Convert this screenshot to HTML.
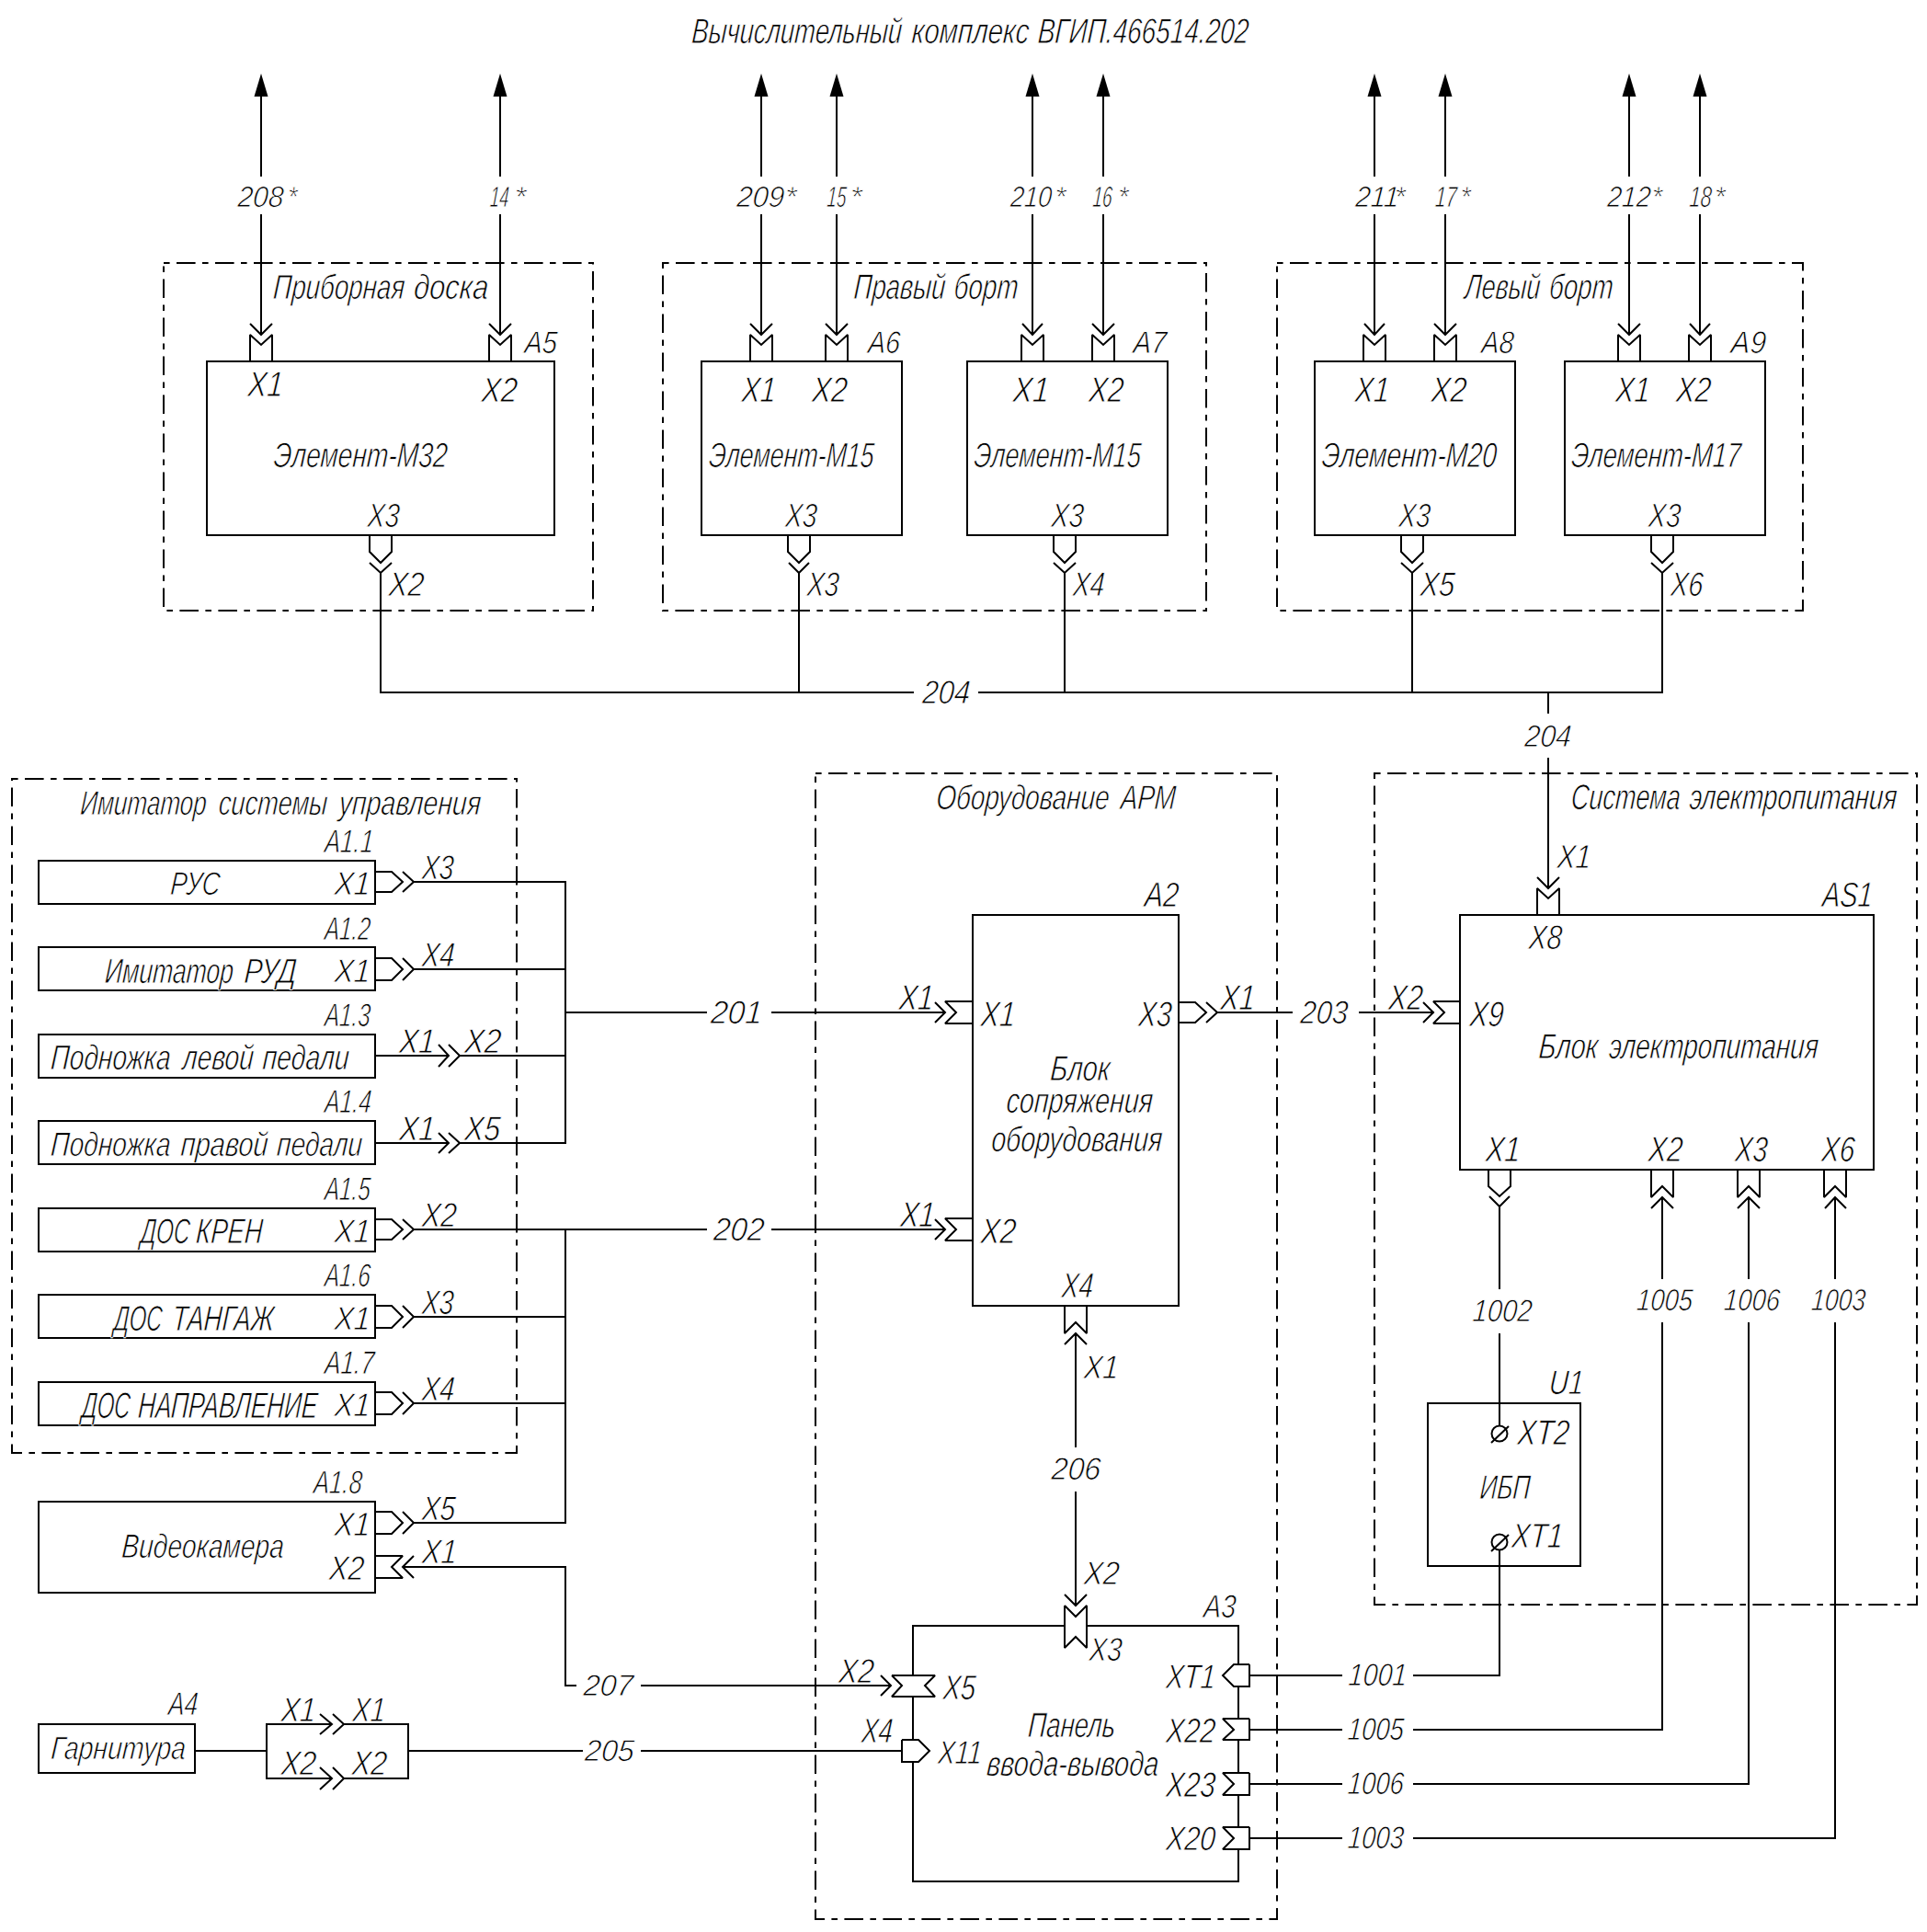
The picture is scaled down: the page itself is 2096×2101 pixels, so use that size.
<!DOCTYPE html>
<html><head><meta charset="utf-8"><title>schema</title>
<style>
html,body{margin:0;padding:0;background:#fff;}
body{width:2096px;height:2101px;overflow:hidden;}
svg{display:block;}
.d{stroke-dasharray:6.6 7.4 20.6 7.4;}
.tx text{font-family:"Liberation Sans",sans-serif;font-style:italic;fill:#000;stroke:#fff;stroke-width:0.85px;paint-order:fill;}
</style></head><body>
<svg width="2096" height="2101" viewBox="0 0 2096 2101">
<g fill="none" stroke="#000" stroke-width="2" stroke-linejoin="miter" stroke-miterlimit="2" stroke-linecap="butt">
<rect x="225" y="393" width="378" height="189"/>
<path d="M272,393 L272,364 L284,375 L296,364 L296,393"/>
<path d="M272,352 L284,364 L296,352"/>
<path d="M284,364 L284,233"/>
<path d="M284,192 L284,105"/>
<path d="M532,393 L532,364 L544,375 L556,364 L556,393"/>
<path d="M532,352 L544,364 L556,352"/>
<path d="M544,364 L544,233"/>
<path d="M544,192 L544,105"/>
<path d="M402,582 L402,600 L414,612 L426,600 L426,582"/>
<path d="M402,612 L414,623 L426,612"/>
<rect x="763" y="393" width="218" height="189"/>
<path d="M816,393 L816,364 L828,375 L840,364 L840,393"/>
<path d="M816,352 L828,364 L840,352"/>
<path d="M828,364 L828,233"/>
<path d="M828,192 L828,105"/>
<path d="M898,393 L898,364 L910,375 L922,364 L922,393"/>
<path d="M898,352 L910,364 L922,352"/>
<path d="M910,364 L910,233"/>
<path d="M910,192 L910,105"/>
<path d="M857,582 L857,600 L869,612 L881,600 L881,582"/>
<path d="M858,612 L869,623 L880,612"/>
<path d="M869,623 L869,753"/>
<rect x="1052" y="393" width="218" height="189"/>
<path d="M1111,393 L1111,364 L1123,375 L1135,364 L1135,393"/>
<path d="M1112,352 L1123,364 L1134,352"/>
<path d="M1123,364 L1123,233"/>
<path d="M1123,192 L1123,105"/>
<path d="M1188,393 L1188,364 L1200,375 L1212,364 L1212,393"/>
<path d="M1188,352 L1200,364 L1212,352"/>
<path d="M1200,364 L1200,233"/>
<path d="M1200,192 L1200,105"/>
<path d="M1146,582 L1146,600 L1158,612 L1170,600 L1170,582"/>
<path d="M1146,612 L1158,623 L1170,612"/>
<path d="M1158,623 L1158,753"/>
<rect x="1430" y="393" width="218" height="189"/>
<path d="M1483,393 L1483,364 L1495,375 L1507,364 L1507,393"/>
<path d="M1484,352 L1495,364 L1506,352"/>
<path d="M1495,364 L1495,233"/>
<path d="M1495,192 L1495,105"/>
<path d="M1560,393 L1560,364 L1572,375 L1584,364 L1584,393"/>
<path d="M1560,352 L1572,364 L1584,352"/>
<path d="M1572,364 L1572,233"/>
<path d="M1572,192 L1572,105"/>
<path d="M1524,582 L1524,600 L1536,612 L1548,600 L1548,582"/>
<path d="M1524,612 L1536,623 L1548,612"/>
<path d="M1536,623 L1536,753"/>
<rect x="1702" y="393" width="218" height="189"/>
<path d="M1760,393 L1760,364 L1772,375 L1784,364 L1784,393"/>
<path d="M1760,352 L1772,364 L1784,352"/>
<path d="M1772,364 L1772,233"/>
<path d="M1772,192 L1772,105"/>
<path d="M1837,393 L1837,364 L1849,375 L1861,364 L1861,393"/>
<path d="M1838,352 L1849,364 L1860,352"/>
<path d="M1849,364 L1849,233"/>
<path d="M1849,192 L1849,105"/>
<path d="M1796,582 L1796,600 L1808,612 L1820,600 L1820,582"/>
<path d="M1796,612 L1808,623 L1820,612"/>
<path class="d" d="M178,286 H645 V664 H178 Z"/>
<path class="d" d="M721,286 H1312 V664 H721 Z"/>
<path class="d" d="M1389,286 H1961 V664 H1389 Z"/>
<path d="M414,623 L414,753 L994,753"/>
<path d="M1064,753 L1808,753 L1808,623"/>
<path d="M1684,753 L1684,776"/>
<path class="d" d="M13,847 H562 V1580 H13 Z"/>
<rect x="42" y="936" width="366" height="47"/>
<path d="M408,948 L426,948 L438,959 L426,970 L408,970"/>
<path d="M438,948 L450,959 L438,970"/>
<path d="M450,959 L615,959 L615,1101"/>
<rect x="42" y="1030" width="366" height="47"/>
<path d="M408,1042 L426,1042 L438,1054 L426,1066 L408,1066"/>
<path d="M438,1042 L450,1054 L438,1066"/>
<path d="M450,1054 L615,1054"/>
<rect x="42" y="1125" width="366" height="47"/>
<path d="M408,1148 L488,1148"/>
<path d="M500,1148 L615,1148"/>
<path d="M477,1136 L488,1148 L477,1160"/>
<path d="M488,1136 L500,1148 L488,1160"/>
<rect x="42" y="1219" width="366" height="47"/>
<path d="M408,1243 L488,1243"/>
<path d="M500,1243 L615,1243 L615,1101"/>
<path d="M477,1232 L488,1243 L477,1254"/>
<path d="M488,1232 L500,1243 L488,1254"/>
<rect x="42" y="1314" width="366" height="47"/>
<path d="M408,1326 L426,1326 L438,1337 L426,1348 L408,1348"/>
<path d="M438,1326 L450,1337 L438,1348"/>
<path d="M450,1337 L769,1337"/>
<rect x="42" y="1408" width="366" height="47"/>
<path d="M408,1420 L426,1420 L438,1432 L426,1444 L408,1444"/>
<path d="M438,1420 L450,1432 L438,1444"/>
<path d="M450,1432 L615,1432"/>
<rect x="42" y="1503" width="366" height="47"/>
<path d="M408,1514 L426,1514 L438,1526 L426,1538 L408,1538"/>
<path d="M438,1514 L450,1526 L438,1538"/>
<path d="M450,1526 L615,1526"/>
<rect x="42" y="1633" width="366" height="99"/>
<path d="M408,1644 L426,1644 L438,1656 L426,1668 L408,1668"/>
<path d="M438,1644 L450,1656 L438,1668"/>
<path d="M450,1656 L615,1656 L615,1337"/>
<path d="M408,1692 L438,1692 L426,1704 L438,1716 L408,1716"/>
<path d="M450,1692 L438,1704 L450,1716"/>
<path d="M438,1704 L615,1704 L615,1833 L627,1833"/>
<path d="M615,1101 L769,1101"/>
<rect x="42" y="1875" width="170" height="53"/>
<path d="M212,1904 L290,1904"/>
<path d="M374,1875 L444,1875 L444,1934 L374,1934"/>
<path d="M361,1875 L290,1875 L290,1934 L361,1934"/>
<path d="M348,1864 L361,1875 L348,1886"/>
<path d="M362,1864 L374,1875 L362,1886"/>
<path d="M348,1922 L361,1934 L348,1946"/>
<path d="M362,1922 L374,1934 L362,1946"/>
<path d="M444,1904 L634,1904"/>
<path class="d" d="M887,841 H1389 V2087 H887 Z"/>
<rect x="1058" y="995" width="224" height="425"/>
<path d="M839,1101 L1028,1101"/>
<path d="M1058,1089 L1028,1089 L1040,1101 L1028,1113 L1058,1113"/>
<path d="M1017,1090 L1028,1101 L1017,1112"/>
<path d="M1282,1090 L1300,1090 L1312,1101 L1300,1112 L1282,1112"/>
<path d="M1312,1090 L1324,1101 L1312,1112"/>
<path d="M1324,1101 L1406,1101"/>
<path d="M1478,1101 L1560,1101"/>
<path d="M839,1337 L1028,1337"/>
<path d="M1058,1325 L1028,1325 L1040,1337 L1028,1349 L1058,1349"/>
<path d="M1017,1326 L1028,1337 L1017,1348"/>
<path d="M1158,1420 L1158,1450 L1170,1438 L1182,1450 L1182,1420"/>
<path d="M1158,1462 L1170,1450 L1182,1462"/>
<path d="M1170,1450 L1170,1574"/>
<path d="M1170,1622 L1170,1746"/>
<path d="M1158,1734 L1170,1746 L1182,1734"/>
<path d="M1158,1746 L1170,1758 L1182,1746 L1182,1792 L1170,1780 L1158,1792 L1158,1746"/>
<path d="M1158,1768 L993,1768 L993,1822"/>
<path d="M1182,1768 L1347,1768 L1347,1810"/>
<path d="M993,1845 L993,1892"/>
<path d="M993,1916 L993,2046 L1347,2046 L1347,2011"/>
<path d="M1347,1833 L1347,1869"/>
<path d="M1347,1892 L1347,1928"/>
<path d="M1347,1952 L1347,1987"/>
<path d="M970,1822 L1017,1822 L1006,1833 L1017,1845 L970,1845 L981,1833 L970,1822"/>
<path d="M958,1822 L969,1833 L958,1844"/>
<path d="M697,1833 L969,1833"/>
<path d="M981,1892 L999,1892 L1011,1904 L999,1916 L981,1916 L981,1892"/>
<path d="M697,1904 L981,1904"/>
<path d="M1359,1810 L1342,1810 L1330,1822 L1342,1834 L1359,1834 L1359,1810"/>
<path d="M1359,1869 L1330,1869 L1342,1881 L1330,1892 L1359,1892 L1359,1869"/>
<path d="M1359,1928 L1330,1928 L1342,1940 L1330,1952 L1359,1952 L1359,1928"/>
<path d="M1359,1987 L1330,1987 L1342,1999 L1330,2011 L1359,2011 L1359,1987"/>
<path class="d" d="M1495,841 H2085 V1745 H1495 Z"/>
<rect x="1588" y="995" width="450" height="277"/>
<path d="M1672,995 L1672,966 L1684,977 L1696,966 L1696,995"/>
<path d="M1672,954 L1684,966 L1696,954"/>
<path d="M1684,824 L1684,966"/>
<path d="M1588,1089 L1559,1089 L1571,1101 L1559,1113 L1588,1113"/>
<path d="M1548,1090 L1559,1101 L1548,1112"/>
<path d="M1619,1272 L1619,1290 L1631,1301 L1643,1290 L1643,1272"/>
<path d="M1620,1301 L1631,1312 L1642,1301"/>
<path d="M1631,1312 L1631,1402"/>
<path d="M1631,1450 L1631,1550"/>
<path d="M1796,1272 L1796,1302 L1808,1290 L1820,1302 L1820,1272"/>
<path d="M1796,1314 L1808,1302 L1820,1314"/>
<path d="M1808,1302 L1808,1391"/>
<path d="M1808,1438 L1808,1881 L1537,1881"/>
<path d="M1890,1272 L1890,1302 L1902,1290 L1914,1302 L1914,1272"/>
<path d="M1890,1314 L1902,1302 L1914,1314"/>
<path d="M1902,1302 L1902,1391"/>
<path d="M1902,1438 L1902,1940 L1537,1940"/>
<path d="M1984,1272 L1984,1302 L1996,1290 L2008,1302 L2008,1272"/>
<path d="M1985,1314 L1996,1302 L2008,1314"/>
<path d="M1996,1302 L1996,1391"/>
<path d="M1996,1438 L1996,1999 L1537,1999"/>
<rect x="1553" y="1526" width="166" height="177"/>
<circle cx="1631" cy="1559" r="8.5"/>
<path d="M1622,1569 L1641,1551"/>
<circle cx="1631" cy="1677" r="8.5"/>
<path d="M1622,1687 L1641,1669"/>
<path d="M1631,1686 L1631,1822 L1537,1822"/>
<path d="M1460,1822 L1359,1822"/>
<path d="M1460,1881 L1359,1881"/>
<path d="M1460,1940 L1359,1940"/>
<path d="M1460,1999 L1359,1999"/>
</g>
<g fill="#000" stroke="none"><path d="M284,80 L276.5,105 L291.5,105 Z"/><path d="M544,80 L536.5,105 L551.5,105 Z"/><path d="M828,80 L820.5,105 L835.5,105 Z"/><path d="M910,80 L902.5,105 L917.5,105 Z"/><path d="M1123,80 L1115.5,105 L1130.5,105 Z"/><path d="M1200,80 L1192.5,105 L1207.5,105 Z"/><path d="M1495,80 L1487.5,105 L1502.5,105 Z"/><path d="M1572,80 L1564.5,105 L1579.5,105 Z"/><path d="M1772,80 L1764.5,105 L1779.5,105 Z"/><path d="M1849,80 L1841.5,105 L1856.5,105 Z"/></g>
<g class="tx">
<text transform="translate(751.7,46.8) skewX(-4)" font-size="38.6" textLength="228.7" lengthAdjust="spacingAndGlyphs">Вычислительный</text>
<text transform="translate(990.9,46.8) skewX(-4)" font-size="38.6" textLength="127.7" lengthAdjust="spacingAndGlyphs">комплекс</text>
<text transform="translate(1128.2,46.8) skewX(-4)" font-size="38.6" textLength="229.4" lengthAdjust="spacingAndGlyphs">ВГИП.466514.202</text>
<text transform="translate(570.0,383.5) skewX(-4)" font-size="34.1" textLength="35.5" lengthAdjust="spacingAndGlyphs">A5</text>
<text transform="translate(297.0,507.8) skewX(-4)" font-size="38.1" textLength="188.9" lengthAdjust="spacingAndGlyphs">Элемент-М32</text>
<text transform="translate(399.0,573.2) skewX(-4)" font-size="36.5" textLength="34.8" lengthAdjust="spacingAndGlyphs">X3</text>
<text transform="translate(268.8,431.0) skewX(-4)" font-size="38.6" textLength="38.4" lengthAdjust="spacingAndGlyphs">X1</text>
<text transform="translate(257.9,224.5) skewX(-4)" font-size="32.0" textLength="49.9" lengthAdjust="spacingAndGlyphs">208</text>
<text transform="translate(312.0,224.5) skewX(-4)" font-size="32.0" textLength="10.4" lengthAdjust="spacingAndGlyphs">*</text>
<text transform="translate(522.9,436.5) skewX(-4)" font-size="37.8" textLength="39.1" lengthAdjust="spacingAndGlyphs">X2</text>
<text transform="translate(532.6,224.5) skewX(-4)" font-size="32.0" textLength="20.2" lengthAdjust="spacingAndGlyphs">14</text>
<text transform="translate(558.5,224.5) skewX(-4)" font-size="32.0" textLength="12.7" lengthAdjust="spacingAndGlyphs">*</text>
<text transform="translate(422.0,648.4) skewX(-4)" font-size="36.8" textLength="38.5" lengthAdjust="spacingAndGlyphs">X2</text>
<text transform="translate(943.4,383.5) skewX(-4)" font-size="34.1" textLength="35.1" lengthAdjust="spacingAndGlyphs">A6</text>
<text transform="translate(770.4,507.8) skewX(-4)" font-size="38.1" textLength="179.6" lengthAdjust="spacingAndGlyphs">Элемент-М15</text>
<text transform="translate(853.4,573.2) skewX(-4)" font-size="36.5" textLength="34.4" lengthAdjust="spacingAndGlyphs">X3</text>
<text transform="translate(806.0,437.0) skewX(-4)" font-size="38.4" textLength="37.3" lengthAdjust="spacingAndGlyphs">X1</text>
<text transform="translate(800.7,224.5) skewX(-4)" font-size="32.0" textLength="51.8" lengthAdjust="spacingAndGlyphs">209</text>
<text transform="translate(853.1,224.5) skewX(-4)" font-size="32.0" textLength="12.5" lengthAdjust="spacingAndGlyphs">*</text>
<text transform="translate(882.6,437.0) skewX(-4)" font-size="38.4" textLength="38.4" lengthAdjust="spacingAndGlyphs">X2</text>
<text transform="translate(899.1,224.5) skewX(-4)" font-size="32.0" textLength="20.8" lengthAdjust="spacingAndGlyphs">15</text>
<text transform="translate(923.7,224.5) skewX(-4)" font-size="32.0" textLength="12.9" lengthAdjust="spacingAndGlyphs">*</text>
<text transform="translate(877.0,648.4) skewX(-4)" font-size="36.8" textLength="34.8" lengthAdjust="spacingAndGlyphs">X3</text>
<text transform="translate(1232.0,383.5) skewX(-4)" font-size="34.1" textLength="36.1" lengthAdjust="spacingAndGlyphs">A7</text>
<text transform="translate(1058.7,507.8) skewX(-4)" font-size="38.1" textLength="181.5" lengthAdjust="spacingAndGlyphs">Элемент-М15</text>
<text transform="translate(1142.8,573.2) skewX(-4)" font-size="36.5" textLength="35.2" lengthAdjust="spacingAndGlyphs">X3</text>
<text transform="translate(1101.0,437.0) skewX(-4)" font-size="38.4" textLength="39.3" lengthAdjust="spacingAndGlyphs">X1</text>
<text transform="translate(1098.5,224.5) skewX(-4)" font-size="32.0" textLength="45.0" lengthAdjust="spacingAndGlyphs">210</text>
<text transform="translate(1146.3,224.5) skewX(-4)" font-size="32.0" textLength="12.1" lengthAdjust="spacingAndGlyphs">*</text>
<text transform="translate(1183.5,437.0) skewX(-4)" font-size="38.4" textLength="38.0" lengthAdjust="spacingAndGlyphs">X2</text>
<text transform="translate(1187.9,224.5) skewX(-4)" font-size="32.0" textLength="21.2" lengthAdjust="spacingAndGlyphs">16</text>
<text transform="translate(1215.1,224.5) skewX(-4)" font-size="32.0" textLength="11.4" lengthAdjust="spacingAndGlyphs">*</text>
<text transform="translate(1166.2,648.4) skewX(-4)" font-size="36.8" textLength="34.4" lengthAdjust="spacingAndGlyphs">X4</text>
<text transform="translate(1610.7,383.5) skewX(-4)" font-size="34.1" textLength="35.2" lengthAdjust="spacingAndGlyphs">A8</text>
<text transform="translate(1437.1,507.8) skewX(-4)" font-size="38.1" textLength="190.2" lengthAdjust="spacingAndGlyphs">Элемент-М20</text>
<text transform="translate(1520.7,573.2) skewX(-4)" font-size="36.5" textLength="34.3" lengthAdjust="spacingAndGlyphs">X3</text>
<text transform="translate(1473.0,437.0) skewX(-4)" font-size="38.4" textLength="37.4" lengthAdjust="spacingAndGlyphs">X1</text>
<text transform="translate(1473.7,224.5) skewX(-4)" font-size="32.0" textLength="47.2" lengthAdjust="spacingAndGlyphs">211</text>
<text transform="translate(1515.8,224.5) skewX(-4)" font-size="32.0" textLength="11.9" lengthAdjust="spacingAndGlyphs">*</text>
<text transform="translate(1556.0,437.0) skewX(-4)" font-size="38.4" textLength="38.5" lengthAdjust="spacingAndGlyphs">X2</text>
<text transform="translate(1560.5,224.5) skewX(-4)" font-size="32.0" textLength="23.3" lengthAdjust="spacingAndGlyphs">17</text>
<text transform="translate(1587.6,224.5) skewX(-4)" font-size="32.0" textLength="11.1" lengthAdjust="spacingAndGlyphs">*</text>
<text transform="translate(1544.0,648.4) skewX(-4)" font-size="36.8" textLength="37.5" lengthAdjust="spacingAndGlyphs">X5</text>
<text transform="translate(1882.0,383.5) skewX(-4)" font-size="34.1" textLength="38.3" lengthAdjust="spacingAndGlyphs">A9</text>
<text transform="translate(1708.5,507.8) skewX(-4)" font-size="38.1" textLength="184.2" lengthAdjust="spacingAndGlyphs">Элемент-М17</text>
<text transform="translate(1792.3,573.2) skewX(-4)" font-size="36.5" textLength="35.0" lengthAdjust="spacingAndGlyphs">X3</text>
<text transform="translate(1756.6,437.0) skewX(-4)" font-size="38.4" textLength="37.5" lengthAdjust="spacingAndGlyphs">X1</text>
<text transform="translate(1747.7,224.5) skewX(-4)" font-size="32.0" textLength="47.2" lengthAdjust="spacingAndGlyphs">212</text>
<text transform="translate(1795.7,224.5) skewX(-4)" font-size="32.0" textLength="11.3" lengthAdjust="spacingAndGlyphs">*</text>
<text transform="translate(1822.2,437.0) skewX(-4)" font-size="38.4" textLength="38.2" lengthAdjust="spacingAndGlyphs">X2</text>
<text transform="translate(1837.0,224.5) skewX(-4)" font-size="32.0" textLength="24.2" lengthAdjust="spacingAndGlyphs">18</text>
<text transform="translate(1863.7,224.5) skewX(-4)" font-size="32.0" textLength="11.8" lengthAdjust="spacingAndGlyphs">*</text>
<text transform="translate(1816.4,648.4) skewX(-4)" font-size="36.8" textLength="35.3" lengthAdjust="spacingAndGlyphs">X6</text>
<text transform="translate(296.6,324.8) skewX(-4)" font-size="37.7" textLength="142.9" lengthAdjust="spacingAndGlyphs">Приборная</text>
<text transform="translate(449.5,324.8) skewX(-4)" font-size="37.7" textLength="81.0" lengthAdjust="spacingAndGlyphs">доска</text>
<text transform="translate(928.1,324.8) skewX(-4)" font-size="38.4" textLength="99.7" lengthAdjust="spacingAndGlyphs">Правый</text>
<text transform="translate(1037.1,324.8) skewX(-4)" font-size="38.4" textLength="69.8" lengthAdjust="spacingAndGlyphs">борт</text>
<text transform="translate(1592.6,324.8) skewX(-4)" font-size="38.4" textLength="82.1" lengthAdjust="spacingAndGlyphs">Левый</text>
<text transform="translate(1684.6,324.8) skewX(-4)" font-size="38.4" textLength="69.3" lengthAdjust="spacingAndGlyphs">борт</text>
<text transform="translate(1002.7,765.4) skewX(-4)" font-size="35.8" textLength="51.8" lengthAdjust="spacingAndGlyphs">204</text>
<text transform="translate(1657.7,811.5) skewX(-4)" font-size="33.6" textLength="50.8" lengthAdjust="spacingAndGlyphs">204</text>
<text transform="translate(86.8,886.2) skewX(-4)" font-size="37.2" textLength="137.3" lengthAdjust="spacingAndGlyphs">Имитатор</text>
<text transform="translate(237.2,886.2) skewX(-4)" font-size="37.2" textLength="118.3" lengthAdjust="spacingAndGlyphs">системы</text>
<text transform="translate(367.9,886.2) skewX(-4)" font-size="37.2" textLength="154.6" lengthAdjust="spacingAndGlyphs">управления</text>
<text transform="translate(352.4,927.0) skewX(-4)" font-size="35.4" textLength="53.1" lengthAdjust="spacingAndGlyphs">A1.1</text>
<text transform="translate(184.7,973.2) skewX(-4)" font-size="35.4" textLength="54.1" lengthAdjust="spacingAndGlyphs">РУС</text>
<text transform="translate(363.0,973.2) skewX(-4)" font-size="35.5" textLength="39.0" lengthAdjust="spacingAndGlyphs">X1</text>
<text transform="translate(458.2,955.8) skewX(-4)" font-size="37.1" textLength="34.5" lengthAdjust="spacingAndGlyphs">X3</text>
<text transform="translate(352.4,1021.5) skewX(-4)" font-size="35.4" textLength="49.9" lengthAdjust="spacingAndGlyphs">A1.2</text>
<text transform="translate(113.6,1068.6) skewX(-4)" font-size="38.1" textLength="139.6" lengthAdjust="spacingAndGlyphs">Имитатор</text>
<text transform="translate(264.9,1068.6) skewX(-4)" font-size="38.1" textLength="57.0" lengthAdjust="spacingAndGlyphs">РУД</text>
<text transform="translate(363.0,1067.7) skewX(-4)" font-size="35.5" textLength="39.0" lengthAdjust="spacingAndGlyphs">X1</text>
<text transform="translate(458.2,1050.8) skewX(-4)" font-size="37.1" textLength="35.6" lengthAdjust="spacingAndGlyphs">X4</text>
<text transform="translate(352.4,1115.9) skewX(-4)" font-size="35.4" textLength="49.9" lengthAdjust="spacingAndGlyphs">A1.3</text>
<text transform="translate(54.6,1162.7) skewX(-4)" font-size="38.1" textLength="130.4" lengthAdjust="spacingAndGlyphs">Подножка</text>
<text transform="translate(197.9,1162.7) skewX(-4)" font-size="38.1" textLength="77.5" lengthAdjust="spacingAndGlyphs">левой</text>
<text transform="translate(284.9,1162.7) skewX(-4)" font-size="38.1" textLength="94.1" lengthAdjust="spacingAndGlyphs">педали</text>
<text transform="translate(433.5,1144.5) skewX(-4)" font-size="37.4" textLength="38.8" lengthAdjust="spacingAndGlyphs">X1</text>
<text transform="translate(504.5,1144.5) skewX(-4)" font-size="37.4" textLength="39.9" lengthAdjust="spacingAndGlyphs">X2</text>
<text transform="translate(352.4,1210.3) skewX(-4)" font-size="35.4" textLength="50.9" lengthAdjust="spacingAndGlyphs">A1.4</text>
<text transform="translate(54.6,1257.1) skewX(-4)" font-size="36.8" textLength="130.3" lengthAdjust="spacingAndGlyphs">Подножка</text>
<text transform="translate(195.9,1257.1) skewX(-4)" font-size="36.8" textLength="95.1" lengthAdjust="spacingAndGlyphs">правой</text>
<text transform="translate(300.5,1257.1) skewX(-4)" font-size="36.8" textLength="92.9" lengthAdjust="spacingAndGlyphs">педали</text>
<text transform="translate(433.5,1239.5) skewX(-4)" font-size="37.4" textLength="38.8" lengthAdjust="spacingAndGlyphs">X1</text>
<text transform="translate(504.5,1239.5) skewX(-4)" font-size="37.4" textLength="38.9" lengthAdjust="spacingAndGlyphs">X5</text>
<text transform="translate(352.4,1304.8) skewX(-4)" font-size="35.4" textLength="49.9" lengthAdjust="spacingAndGlyphs">A1.5</text>
<text transform="translate(152.3,1352.0) skewX(-4)" font-size="38.4" textLength="53.4" lengthAdjust="spacingAndGlyphs">ДОС</text>
<text transform="translate(212.6,1352.0) skewX(-4)" font-size="38.4" textLength="72.3" lengthAdjust="spacingAndGlyphs">КРЕН</text>
<text transform="translate(363.0,1351.0) skewX(-4)" font-size="35.5" textLength="39.0" lengthAdjust="spacingAndGlyphs">X1</text>
<text transform="translate(458.2,1333.8) skewX(-4)" font-size="37.1" textLength="37.8" lengthAdjust="spacingAndGlyphs">X2</text>
<text transform="translate(352.4,1399.2) skewX(-4)" font-size="35.4" textLength="49.9" lengthAdjust="spacingAndGlyphs">A1.6</text>
<text transform="translate(123.3,1447.1) skewX(-4)" font-size="38.8" textLength="52.2" lengthAdjust="spacingAndGlyphs">ДОС</text>
<text transform="translate(186.8,1447.1) skewX(-4)" font-size="38.8" textLength="110.5" lengthAdjust="spacingAndGlyphs">ТАНГАЖ</text>
<text transform="translate(363.0,1445.5) skewX(-4)" font-size="35.5" textLength="39.0" lengthAdjust="spacingAndGlyphs">X1</text>
<text transform="translate(458.2,1428.8) skewX(-4)" font-size="37.1" textLength="34.5" lengthAdjust="spacingAndGlyphs">X3</text>
<text transform="translate(352.4,1493.7) skewX(-4)" font-size="35.4" textLength="54.1" lengthAdjust="spacingAndGlyphs">A1.7</text>
<text transform="translate(88.2,1541.6) skewX(-4)" font-size="40.0" textLength="52.5" lengthAdjust="spacingAndGlyphs">ДОС</text>
<text transform="translate(149.5,1541.6) skewX(-4)" font-size="40.0" textLength="195.3" lengthAdjust="spacingAndGlyphs">НАПРАВЛЕНИЕ</text>
<text transform="translate(363.0,1539.9) skewX(-4)" font-size="35.5" textLength="39.0" lengthAdjust="spacingAndGlyphs">X1</text>
<text transform="translate(458.2,1522.8) skewX(-4)" font-size="37.1" textLength="35.6" lengthAdjust="spacingAndGlyphs">X4</text>
<text transform="translate(340.4,1624.1) skewX(-4)" font-size="35.2" textLength="52.8" lengthAdjust="spacingAndGlyphs">A1.8</text>
<text transform="translate(131.7,1694.2) skewX(-4)" font-size="36.8" textLength="176.4" lengthAdjust="spacingAndGlyphs">Видеокамера</text>
<text transform="translate(363.0,1669.5) skewX(-4)" font-size="36.2" textLength="39.0" lengthAdjust="spacingAndGlyphs">X1</text>
<text transform="translate(357.2,1717.8) skewX(-4)" font-size="36.8" textLength="38.2" lengthAdjust="spacingAndGlyphs">X2</text>
<text transform="translate(458.2,1652.5) skewX(-4)" font-size="37.0" textLength="36.4" lengthAdjust="spacingAndGlyphs">X5</text>
<text transform="translate(458.2,1699.7) skewX(-4)" font-size="37.0" textLength="38.0" lengthAdjust="spacingAndGlyphs">X1</text>
<text transform="translate(634.0,1843.9) skewX(-4)" font-size="32.6" textLength="54.0" lengthAdjust="spacingAndGlyphs">207</text>
<text transform="translate(772.4,1113.0) skewX(-4)" font-size="35.2" textLength="56.1" lengthAdjust="spacingAndGlyphs">201</text>
<text transform="translate(775.4,1349.1) skewX(-4)" font-size="35.2" textLength="55.4" lengthAdjust="spacingAndGlyphs">202</text>
<text transform="translate(182.4,1865.0) skewX(-4)" font-size="35.4" textLength="32.2" lengthAdjust="spacingAndGlyphs">A4</text>
<text transform="translate(54.7,1912.9) skewX(-4)" font-size="35.2" textLength="146.6" lengthAdjust="spacingAndGlyphs">Гарнитура</text>
<text transform="translate(304.9,1871.5) skewX(-4)" font-size="37.0" textLength="37.9" lengthAdjust="spacingAndGlyphs">X1</text>
<text transform="translate(382.8,1871.5) skewX(-4)" font-size="37.0" textLength="35.6" lengthAdjust="spacingAndGlyphs">X1</text>
<text transform="translate(304.9,1930.3) skewX(-4)" font-size="36.8" textLength="38.3" lengthAdjust="spacingAndGlyphs">X2</text>
<text transform="translate(381.9,1930.3) skewX(-4)" font-size="36.8" textLength="38.3" lengthAdjust="spacingAndGlyphs">X2</text>
<text transform="translate(635.6,1915.0) skewX(-4)" font-size="33.0" textLength="53.6" lengthAdjust="spacingAndGlyphs">205</text>
<text transform="translate(1017.8,879.6) skewX(-4)" font-size="37.5" textLength="188.1" lengthAdjust="spacingAndGlyphs">Оборудование</text>
<text transform="translate(1218.2,879.6) skewX(-4)" font-size="37.5" textLength="60.0" lengthAdjust="spacingAndGlyphs">АРМ</text>
<text transform="translate(1244.2,985.9) skewX(-4)" font-size="38.0" textLength="37.2" lengthAdjust="spacingAndGlyphs">A2</text>
<text transform="translate(977.1,1097.7) skewX(-4)" font-size="38.4" textLength="37.6" lengthAdjust="spacingAndGlyphs">X1</text>
<text transform="translate(1066.1,1115.9) skewX(-4)" font-size="38.4" textLength="37.6" lengthAdjust="spacingAndGlyphs">X1</text>
<text transform="translate(1237.4,1115.9) skewX(-4)" font-size="38.4" textLength="36.2" lengthAdjust="spacingAndGlyphs">X3</text>
<text transform="translate(1326.7,1097.7) skewX(-4)" font-size="38.4" textLength="37.5" lengthAdjust="spacingAndGlyphs">X1</text>
<text transform="translate(1413.8,1113.0) skewX(-4)" font-size="35.2" textLength="51.8" lengthAdjust="spacingAndGlyphs">203</text>
<text transform="translate(978.4,1333.9) skewX(-4)" font-size="38.4" textLength="37.7" lengthAdjust="spacingAndGlyphs">X1</text>
<text transform="translate(1066.1,1352.0) skewX(-4)" font-size="38.4" textLength="38.4" lengthAdjust="spacingAndGlyphs">X2</text>
<text transform="translate(1141.8,1174.8) skewX(-4)" font-size="38.4" textLength="65.2" lengthAdjust="spacingAndGlyphs">Блок</text>
<text transform="translate(1094.0,1209.5) skewX(-4)" font-size="38.4" textLength="159.4" lengthAdjust="spacingAndGlyphs">сопряжения</text>
<text transform="translate(1077.7,1252.1) skewX(-4)" font-size="38.4" textLength="185.9" lengthAdjust="spacingAndGlyphs">оборудования</text>
<text transform="translate(1153.9,1410.7) skewX(-4)" font-size="38.0" textLength="34.4" lengthAdjust="spacingAndGlyphs">X4</text>
<text transform="translate(1178.2,1499.2) skewX(-4)" font-size="35.8" textLength="37.7" lengthAdjust="spacingAndGlyphs">X1</text>
<text transform="translate(1143.1,1608.9) skewX(-4)" font-size="34.2" textLength="53.5" lengthAdjust="spacingAndGlyphs">206</text>
<text transform="translate(1178.2,1723.3) skewX(-4)" font-size="35.8" textLength="38.7" lengthAdjust="spacingAndGlyphs">X2</text>
<text transform="translate(1308.6,1758.5) skewX(-4)" font-size="35.2" textLength="35.0" lengthAdjust="spacingAndGlyphs">A3</text>
<text transform="translate(1184.0,1806.1) skewX(-4)" font-size="35.8" textLength="35.6" lengthAdjust="spacingAndGlyphs">X3</text>
<text transform="translate(911.5,1829.7) skewX(-4)" font-size="37.2" textLength="38.4" lengthAdjust="spacingAndGlyphs">X2</text>
<text transform="translate(1024.9,1847.5) skewX(-4)" font-size="37.8" textLength="35.6" lengthAdjust="spacingAndGlyphs">X5</text>
<text transform="translate(936.2,1894.7) skewX(-4)" font-size="37.8" textLength="34.1" lengthAdjust="spacingAndGlyphs">X4</text>
<text transform="translate(1019.6,1917.6) skewX(-4)" font-size="35.7" textLength="47.9" lengthAdjust="spacingAndGlyphs">X11</text>
<text transform="translate(1117.6,1888.7) skewX(-4)" font-size="38.0" textLength="94.9" lengthAdjust="spacingAndGlyphs">Панель</text>
<text transform="translate(1072.4,1930.6) skewX(-4)" font-size="37.8" textLength="187.4" lengthAdjust="spacingAndGlyphs">ввода-вывода</text>
<text transform="translate(1267.5,1835.9) skewX(-4)" font-size="36.8" textLength="53.8" lengthAdjust="spacingAndGlyphs">XT1</text>
<text transform="translate(1267.5,1894.7) skewX(-4)" font-size="37.8" textLength="53.9" lengthAdjust="spacingAndGlyphs">X22</text>
<text transform="translate(1267.5,1953.9) skewX(-4)" font-size="38.4" textLength="53.8" lengthAdjust="spacingAndGlyphs">X23</text>
<text transform="translate(1267.5,2012.0) skewX(-4)" font-size="36.8" textLength="53.8" lengthAdjust="spacingAndGlyphs">X20</text>
<text transform="translate(1708.2,880.1) skewX(-4)" font-size="38.8" textLength="118.8" lengthAdjust="spacingAndGlyphs">Система</text>
<text transform="translate(1837.0,880.1) skewX(-4)" font-size="38.8" textLength="225.6" lengthAdjust="spacingAndGlyphs">электропитания</text>
<text transform="translate(1981.5,985.9) skewX(-4)" font-size="38.0" textLength="54.7" lengthAdjust="spacingAndGlyphs">AS1</text>
<text transform="translate(1692.9,944.1) skewX(-4)" font-size="36.4" textLength="36.8" lengthAdjust="spacingAndGlyphs">X1</text>
<text transform="translate(1662.0,1032.4) skewX(-4)" font-size="37.0" textLength="36.4" lengthAdjust="spacingAndGlyphs">X8</text>
<text transform="translate(1509.6,1097.7) skewX(-4)" font-size="38.4" textLength="37.2" lengthAdjust="spacingAndGlyphs">X2</text>
<text transform="translate(1597.7,1115.9) skewX(-4)" font-size="38.4" textLength="37.2" lengthAdjust="spacingAndGlyphs">X9</text>
<text transform="translate(1672.9,1150.7) skewX(-4)" font-size="38.6" textLength="64.8" lengthAdjust="spacingAndGlyphs">Блок</text>
<text transform="translate(1749.5,1150.7) skewX(-4)" font-size="38.6" textLength="227.6" lengthAdjust="spacingAndGlyphs">электропитания</text>
<text transform="translate(1615.2,1263.0) skewX(-4)" font-size="38.4" textLength="37.7" lengthAdjust="spacingAndGlyphs">X1</text>
<text transform="translate(1792.0,1263.0) skewX(-4)" font-size="38.4" textLength="37.7" lengthAdjust="spacingAndGlyphs">X2</text>
<text transform="translate(1886.5,1263.0) skewX(-4)" font-size="38.4" textLength="35.4" lengthAdjust="spacingAndGlyphs">X3</text>
<text transform="translate(1980.5,1263.0) skewX(-4)" font-size="38.4" textLength="36.2" lengthAdjust="spacingAndGlyphs">X6</text>
<text transform="translate(1601.1,1437.3) skewX(-4)" font-size="33.9" textLength="64.8" lengthAdjust="spacingAndGlyphs">1002</text>
<text transform="translate(1779.5,1424.9) skewX(-4)" font-size="33.2" textLength="61.0" lengthAdjust="spacingAndGlyphs">1005</text>
<text transform="translate(1874.6,1424.9) skewX(-4)" font-size="33.2" textLength="60.8" lengthAdjust="spacingAndGlyphs">1006</text>
<text transform="translate(1969.5,1424.9) skewX(-4)" font-size="33.2" textLength="59.0" lengthAdjust="spacingAndGlyphs">1003</text>
<text transform="translate(1684.3,1516.2) skewX(-4)" font-size="36.8" textLength="37.4" lengthAdjust="spacingAndGlyphs">U1</text>
<text transform="translate(1649.8,1571.1) skewX(-4)" font-size="38.4" textLength="56.5" lengthAdjust="spacingAndGlyphs">XT2</text>
<text transform="translate(1609.0,1629.5) skewX(-4)" font-size="37.2" textLength="54.8" lengthAdjust="spacingAndGlyphs">ИБП</text>
<text transform="translate(1643.6,1682.5) skewX(-4)" font-size="37.8" textLength="55.7" lengthAdjust="spacingAndGlyphs">XT1</text>
<text transform="translate(1466.1,1833.4) skewX(-4)" font-size="34.3" textLength="63.6" lengthAdjust="spacingAndGlyphs">1001</text>
<text transform="translate(1465.2,1892.2) skewX(-4)" font-size="34.1" textLength="61.2" lengthAdjust="spacingAndGlyphs">1005</text>
<text transform="translate(1465.2,1951.0) skewX(-4)" font-size="34.1" textLength="61.2" lengthAdjust="spacingAndGlyphs">1006</text>
<text transform="translate(1465.2,2010.2) skewX(-4)" font-size="34.1" textLength="61.2" lengthAdjust="spacingAndGlyphs">1003</text>
</g></svg>
</body></html>
